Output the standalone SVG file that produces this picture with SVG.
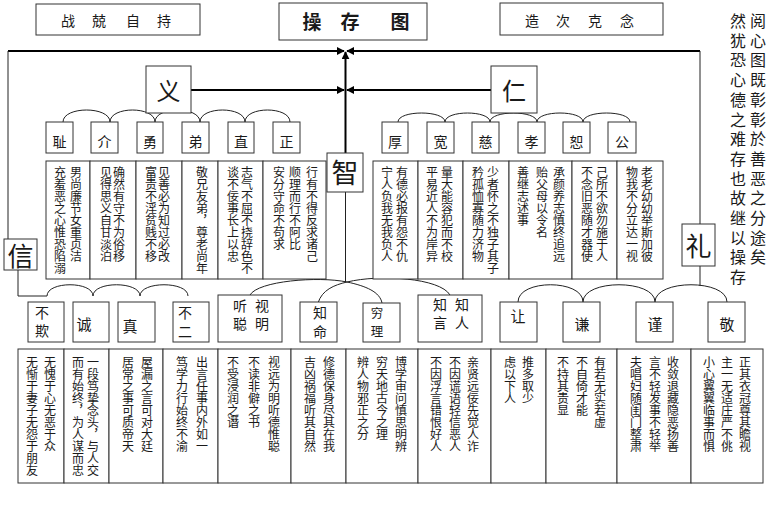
<svg xmlns="http://www.w3.org/2000/svg" width="782" height="519" viewBox="0 0 782 519">
<defs>
<style>
.bx{fill:#fff;stroke:#333;stroke-width:1}
.ln{fill:none;stroke:#222;stroke-width:1}
.th{fill:none;stroke:#000;stroke-width:2}
text{font-family:"Noto Sans CJK SC","Noto Sans CJK JP",sans-serif;fill:#1a1a1a}
.h{text-anchor:middle;dominant-baseline:central}
.v{writing-mode:vertical-rl;font-size:12px}
.lv{writing-mode:vertical-rl;font-size:14px}
.s{font-size:14px}
.m{font-size:15px}
.big{font-size:24px}
.side{writing-mode:vertical-rl;font-size:16px;letter-spacing:3.7px}
</style>
<marker id="ah" viewBox="0 0 10 10" refX="9" refY="5" markerWidth="8" markerHeight="8" markerUnits="userSpaceOnUse" orient="auto">
<path d="M0,0 L10,5 L0,10 z" fill="#000"/>
</marker>
</defs>
<rect width="782" height="519" fill="#fff"/>

<g id="connectors">
<path class="th" d="M8,51 H344" marker-end="url(#ah)"/>
<path class="th" d="M700,51 H347" marker-end="url(#ah)"/>
<path class="th" d="M345.5,153 V52" marker-end="url(#ah)"/>
<path class="th" d="M191,90 H344" marker-end="url(#ah)"/>
<path class="th" d="M491,90 H347" marker-end="url(#ah)"/>
<path class="ln" d="M8,51 V239"/>
<path class="ln" d="M700,51 V224"/>
<path class="ln" d="M63,122 C63,106 110,106 110,122 C110,106 155,106 155,122 C155,106 200,106 200,122 C200,106 245,106 245,122 C245,106 290,106 290,122"/>
<path class="ln" d="M398,122 C398,110 445,110 445,122 C445,110 490,110 490,122 C490,110 537,110 537,122 C537,110 583,110 583,122 C583,110 630,110 630,122"/>
<path class="ln" d="M345.5,192 V282"/>
<path class="ln" d="M250,295 C258,281 318,276 347,282 C366,286 380,292 382,303"/>
<path class="ln" d="M318,303 C322,290 334,285 347,282 C380,274 440,278 450,295"/>
<path class="ln" d="M18,270 V296 H47 C47,281 93,281 93,296 C93,281 140,281 140,296 C140,281 188,281 188,296"/>
<path class="ln" d="M700,266 V286"/>
<path class="ln" d="M518,302 C518,279 583,279 583,302 C583,279 655,279 655,302 C655,279 727,279 727,302"/>
</g>

<g id="title-left"><rect class="bx" x="36" y="4" width="164" height="31"/>
<text class="h s" y="20"><tspan x="68">战</tspan><tspan x="99">兢</tspan><tspan x="133">自</tspan><tspan x="164">持</tspan></text></g>
<g id="title"><rect class="bx" x="279" y="3" width="148" height="37"/>
<text class="h" style="font-size:19px;font-weight:bold" y="20"><tspan x="312">操</tspan><tspan x="350">存</tspan><tspan x="400">图</tspan></text></g>
<g id="title-right"><rect class="bx" x="500" y="3" width="163" height="32"/>
<text class="h s" y="20"><tspan x="532">造</tspan><tspan x="563">次</tspan><tspan x="595">克</tspan><tspan x="627">念</tspan></text></g>

<g id="side-note">
<text class="side" x="758" y="13">阅心图既彰彰於善恶之分途矣</text>
<text class="side" x="738" y="13">然犹恐心德之难存也故继以操存</text>
</g>

<g id="yi"><rect class="bx" x="146" y="66" width="45" height="47"/><text class="h big" x="168.5" y="89">义</text></g>
<g id="ren"><rect class="bx" x="491" y="66" width="46" height="47"/><text class="h big" x="514" y="89">仁</text></g>
<g id="zhi"><rect class="bx" x="327" y="153" width="36" height="39"/><text class="h" style="font-size:27px" x="345" y="171">智</text></g>
<g id="xin"><rect class="bx" x="4" y="239" width="33" height="31"/><text class="h" style="font-size:26px" x="20.5" y="254">信</text></g>
<g id="li"><rect class="bx" x="682" y="224" width="33" height="42"/><text class="h" style="font-size:26px" x="698.5" y="244">礼</text></g>

<g id="yi-items">
<g id="chi"><rect class="bx" x="46" y="122" width="27" height="31"/><text class="h s" x="59.5" y="141">耻</text></g>
<g id="jie"><rect class="bx" x="91" y="122" width="27" height="31"/><text class="h s" x="104.5" y="141">介</text></g>
<g id="yong"><rect class="bx" x="137" y="122" width="26" height="31"/><text class="h s" x="150" y="141">勇</text></g>
<g id="di"><rect class="bx" x="182" y="122" width="27" height="31"/><text class="h s" x="195.5" y="141">弟</text></g>
<g id="zhi2"><rect class="bx" x="228" y="122" width="26" height="31"/><text class="h s" x="241" y="141">直</text></g>
<g id="zheng"><rect class="bx" x="273" y="122" width="27" height="31"/><text class="h s" x="286.5" y="141">正</text></g>
</g>

<g id="ren-items">
<g id="hou"><rect class="bx" x="382" y="122" width="26" height="31"/><text class="h s" x="395" y="141">厚</text></g>
<g id="kuan"><rect class="bx" x="427" y="122" width="27" height="31"/><text class="h s" x="440.5" y="141">宽</text></g>
<g id="ci"><rect class="bx" x="472" y="122" width="27" height="31"/><text class="h s" x="485.5" y="141">慈</text></g>
<g id="xiao"><rect class="bx" x="518" y="122" width="27" height="31"/><text class="h s" x="531.5" y="141">孝</text></g>
<g id="shu"><rect class="bx" x="563" y="122" width="27" height="31"/><text class="h s" x="576.5" y="141">恕</text></g>
<g id="gong"><rect class="bx" x="608" y="122" width="28" height="31"/><text class="h s" x="622" y="141">公</text></g>
</g>

<g id="yi-texts">
<rect class="bx" x="46" y="161" width="44" height="118"/>
<text class="v" x="76" y="166">男尚廉节女重贞洁</text><text class="v" x="60" y="166">充羞恶之心惟恐陷溺</text>
<rect class="bx" x="90" y="161" width="46" height="118"/>
<text class="v" x="119" y="166">确然有守不为俗移</text><text class="v" x="106" y="166">见得思义自甘淡泊</text>
<rect class="bx" x="136" y="161" width="46" height="118"/>
<text class="v" x="164" y="166">见善必为知过必改</text><text class="v" x="151" y="166">富贵不淫贫贱不移</text>
<rect class="bx" x="182" y="161" width="36" height="118"/>
<text class="v" x="202" y="166">敬兄友弟，尊老尚年</text>
<rect class="bx" x="218" y="161" width="45" height="118"/>
<text class="v" x="247" y="166">志气不屈不挠辞色不</text><text class="v" x="233" y="166">谈不佞事长上以忠</text>
<rect class="bx" x="263" y="161" width="63" height="118"/>
<text class="v" x="312" y="166">行有不得反求诸己</text><text class="v" x="295" y="166">顺理而行不阿比</text><text class="v" x="279" y="166">安分守命不苟求</text>
</g>

<g id="ren-texts">
<rect class="bx" x="373" y="161" width="45" height="118"/>
<text class="v" x="402" y="166">有德必报有怨不仇</text><text class="v" x="387" y="166">宁人负我无我负人</text>
<rect class="bx" x="418" y="161" width="45" height="118"/>
<text class="v" x="447" y="166">量大能容犯而不校</text><text class="v" x="432" y="166">平易近人不为岸异</text>
<rect class="bx" x="463" y="161" width="46" height="118"/>
<text class="v" x="493" y="166">少者怀之不独子其子</text><text class="v" x="478" y="166">矜孤恤寡随力济物</text>
<rect class="bx" x="509" y="161" width="63" height="118"/>
<text class="v" x="559" y="166">承颜养志慎终追远</text><text class="v" x="542" y="166">贻父母以令名</text><text class="v" x="523" y="166">善继志述事</text>
<rect class="bx" x="572" y="161" width="45" height="118"/>
<text class="v" x="602" y="166">己所不欲勿施于人</text><text class="v" x="587" y="166">不念旧恶随才器使</text>
<rect class="bx" x="617" y="161" width="46" height="118"/>
<text class="v" x="647" y="166">老老幼幼举斯加彼</text><text class="v" x="632" y="166">物我不分立达一视</text>
</g>

<g id="xin-items">
<g id="buqi"><rect class="bx" x="28" y="302" width="36" height="40"/><text class="lv" style="letter-spacing:4px" x="42" y="306">不欺</text></g>
<g id="cheng"><rect class="bx" x="73" y="302" width="36" height="40"/><text class="h m" x="84" y="323">诚</text></g>
<g id="zhen"><rect class="bx" x="118" y="302" width="37" height="40"/><text class="h m" x="130" y="325">真</text></g>
<g id="buer"><rect class="bx" x="173" y="302" width="36" height="40"/><text class="lv" style="letter-spacing:5px" x="185" y="306">不二</text></g>
</g>

<g id="zhi-items">
<g id="shiming"><rect class="bx" x="218" y="295" width="64" height="47"/><text class="lv" style="letter-spacing:4px" x="262" y="299">视明</text><text class="lv" style="letter-spacing:4px" x="240" y="299">听聪</text></g>
<g id="zhiming"><rect class="bx" x="300" y="302" width="37" height="40"/><text class="lv" style="letter-spacing:5px" x="320" y="306">知命</text></g>
<g id="qiongli"><rect class="bx" x="363" y="303" width="37" height="39"/><text class="lv" style="font-size:12.5px;letter-spacing:5.5px" x="377" y="307">穷理</text></g>
<g id="zhiyan"><rect class="bx" x="418" y="295" width="64" height="47"/><text class="lv" style="letter-spacing:4px" x="462" y="298">知人</text><text class="lv" style="letter-spacing:4px" x="440" y="298">知言</text></g>
</g>

<g id="li-items">
<g id="rang"><rect class="bx" x="500" y="302" width="37" height="40"/><text class="h m" x="518" y="315">让</text></g>
<g id="qian"><rect class="bx" x="563" y="302" width="37" height="40"/><text class="h m" x="582" y="323">谦</text></g>
<g id="jin"><rect class="bx" x="636" y="302" width="37" height="40"/><text class="h m" x="655" y="323">谨</text></g>
<g id="jing"><rect class="bx" x="708" y="302" width="37" height="40"/><text class="h m" x="727" y="323">敬</text></g>
</g>

<g id="lower-texts">
<rect class="bx" x="18" y="349" width="46" height="134"/>
<text class="v" x="50" y="356">无愧于心无恶于众</text><text class="v" x="32" y="356">无惭于妻子无怨于朋友</text>
<rect class="bx" x="64" y="349" width="45" height="134"/>
<text class="v" x="93" y="356">一段笃挚念头，与人交</text><text class="v" x="78" y="356">而有始终，为人谋而忠</text>
<rect class="bx" x="109" y="349" width="54" height="134"/>
<text class="v" x="147" y="356">屋漏之言可对大廷</text><text class="v" x="128" y="356">居常之事可质帝天</text>
<rect class="bx" x="163" y="349" width="55" height="134"/>
<text class="v" x="202" y="356">出言任事内外如一</text><text class="v" x="182" y="356">笃学力行始终不渝</text>
<rect class="bx" x="218" y="349" width="73" height="134"/>
<text class="v" x="274" y="356">视远为明听德惟聪</text><text class="v" x="254" y="356">不读非僻之书</text><text class="v" x="233" y="356">不受浸润之谮</text>
<rect class="bx" x="291" y="349" width="55" height="134"/>
<text class="v" x="329" y="356">修德保身尽其在我</text><text class="v" x="310" y="356">吉凶祸福听其自然</text>
<rect class="bx" x="346" y="349" width="72" height="134"/>
<text class="v" x="401" y="356">博学审问慎思明辨</text><text class="v" x="382" y="356">穷天地古今之理</text><text class="v" x="363" y="356">辨人物邪正之分</text>
<rect class="bx" x="418" y="349" width="73" height="134"/>
<text class="v" x="473" y="356">亲贤远佞先觉人诈</text><text class="v" x="455" y="356">不因谎语轻信恶人</text><text class="v" x="436" y="356">不因浮言错恨好人</text>
<rect class="bx" x="491" y="349" width="55" height="134"/>
<text class="v" x="528" y="356">推多取少</text><text class="v" x="510" y="356">虑以下人</text>
<rect class="bx" x="546" y="349" width="71" height="134"/>
<text class="v" x="600" y="356">有若无实若虚</text><text class="v" x="582" y="356">不自倚才能</text><text class="v" x="563" y="356">不持其贵显</text>
<rect class="bx" x="617" y="349" width="74" height="134"/>
<text class="v" x="673" y="356">收敛退藏隐恶扬善</text><text class="v" x="655" y="356">言不轻发事不轻举</text><text class="v" x="636" y="356">夫唱妇随闺门整肃</text>
<rect class="bx" x="691" y="349" width="72" height="134"/>
<text class="v" x="745" y="356">正其衣冠尊其瞻视</text><text class="v" x="727" y="356">主一无适庄严不佻</text><text class="v" x="709" y="356">小心翼翼临事而惧</text>
</g>
</svg>
